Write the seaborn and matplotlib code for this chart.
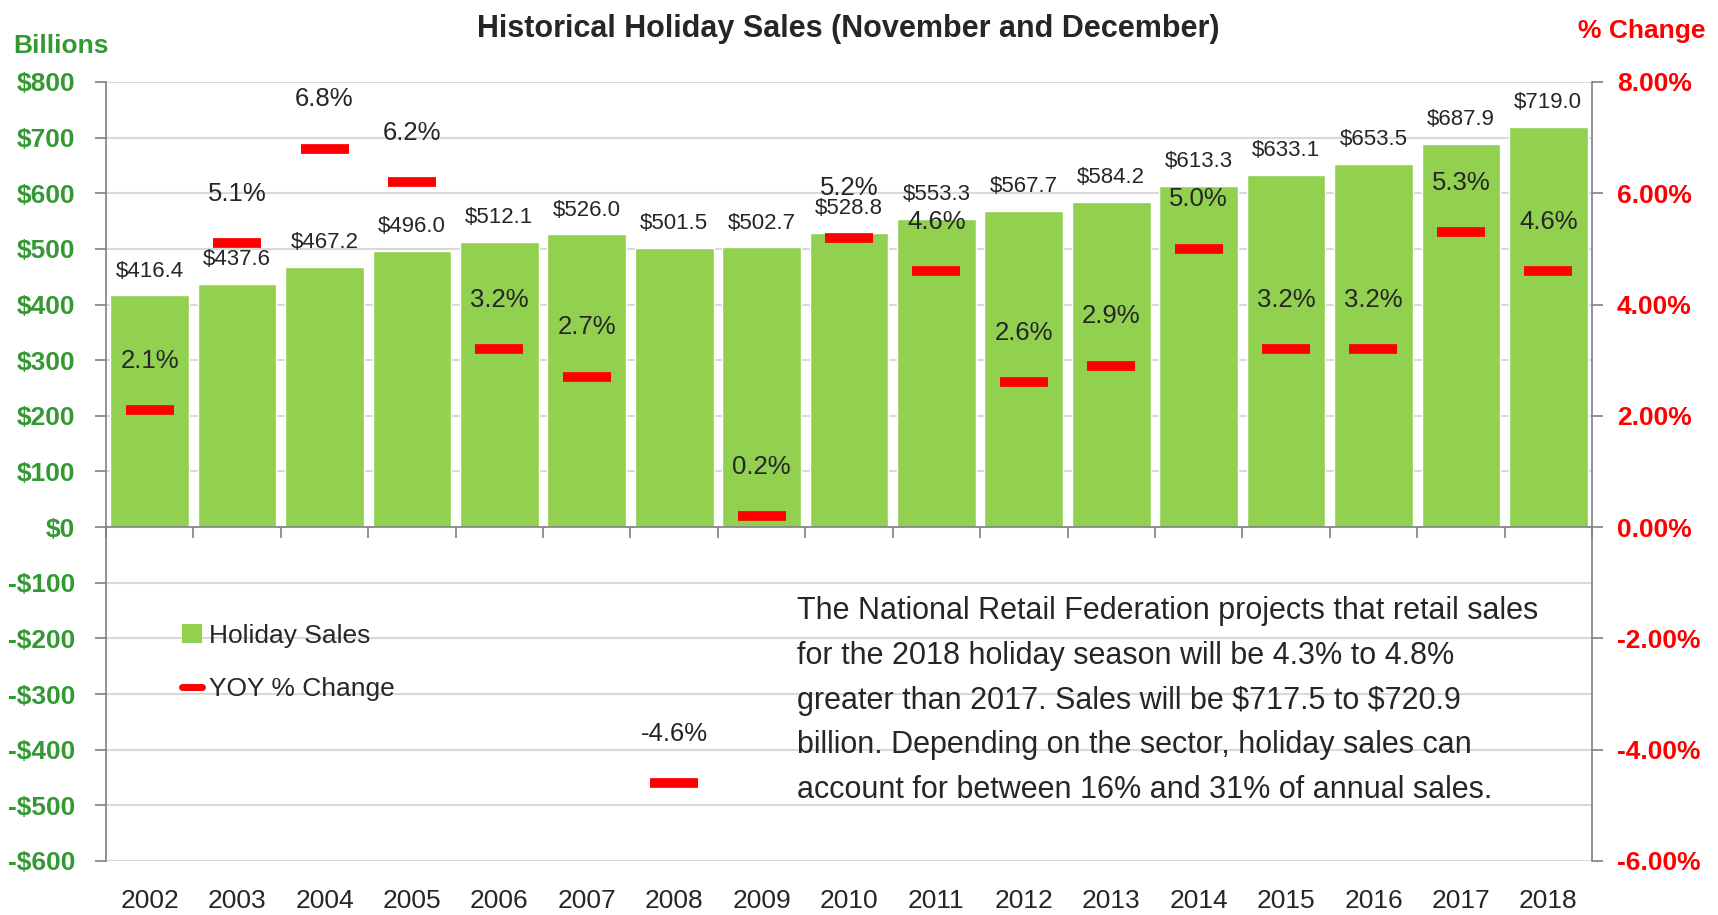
import matplotlib
matplotlib.use("Agg")
import matplotlib.pyplot as plt
import numpy as np
import pandas as pd
import seaborn as sns
from matplotlib.lines import Line2D
from matplotlib.patches import Patch
from matplotlib.ticker import FuncFormatter

years = ["2002", "2003", "2004", "2005", "2006", "2007", "2008", "2009", "2010",
         "2011", "2012", "2013", "2014", "2015", "2016", "2017", "2018"]
sales = [416.4, 437.6, 467.2, 496.0, 512.1, 526.0, 501.5, 502.7, 528.8,
         553.3, 567.7, 584.2, 613.3, 633.1, 653.5, 687.9, 719.0]
pct_change = [2.1, 5.1, 6.8, 6.2, 3.2, 2.7, -4.6, 0.2, 5.2,
              4.6, 2.6, 2.9, 5.0, 3.2, 3.2, 5.3, 4.6]
note = ("The National Retail Federation projects that retail sales\n"
        "for the 2018 holiday season will be 4.3% to 4.8%\n"
        "greater than 2017. Sales will be $717.5 to $720.9\n"
        "billion. Depending on the sector, holiday sales can\n"
        "account for between 16% and 31% of annual sales.")

GREEN = "#92D050"
LABEL_GREEN = "#339933"
RED = "#FF0000"

sns.set_style("white")
plt.rcParams["font.family"] = ["Liberation Sans", "DejaVu Sans"]
plt.rcParams["text.parse_math"] = False

df = pd.DataFrame({"year": years, "sales": sales, "pct": pct_change})

fig = plt.figure(figsize=(17.18, 9.15), dpi=100)
ax = fig.add_axes([106 / 1718, 1 - 861 / 915, 1486 / 1718, 779 / 915])

sns.barplot(data=df, x="year", y="sales", color=GREEN, width=0.9,
            saturation=1, ax=ax, zorder=2)
ax.set_xlim(-0.5, len(years) - 0.5)
ax.set_ylim(-600, 800)
ax.set_yticks(np.arange(-600, 801, 100))
ax.yaxis.set_major_formatter(FuncFormatter(lambda v, p: f"-${abs(v):.0f}" if v < 0 else f"${v:.0f}"))
ax.grid(axis="y", color="#d9d9d9", linewidth=1.5, zorder=0)
ax.set_axisbelow(True)
ax.set_xlabel("")
ax.set_ylabel("")
for s in ["top", "bottom", "right"]:
    ax.spines[s].set_visible(False)
ax.spines["left"].set_color("#808080")
ax.spines["left"].set_linewidth(1.2)
ax.tick_params(axis="y", length=8, width=1.2, color="#808080", labelsize=19,
               labelcolor=LABEL_GREEN, pad=14)
for t in ax.get_yticklabels():
    t.set_fontweight("bold")
ax.tick_params(axis="x", length=0, labelsize=19, pad=20)

# zero line with category tick marks
ax.axhline(0, color="#808080", linewidth=1.2, zorder=3)
sec = ax.secondary_xaxis(600 / 1400)
sec.set_xticks(np.arange(-0.5, len(years), 1.0))
sec.tick_params(axis="x", direction="out", length=8, width=1.2, color="#808080",
                labelbottom=False, labeltop=False, bottom=True, top=False)
sec.spines["bottom"].set_visible(False)
sec.spines["top"].set_visible(False)

for i, v in enumerate(sales):
    ax.annotate(f"${v:.1f}", (i, v), xytext=(0, 10), textcoords="offset points",
                ha="center", va="bottom", fontsize=16, zorder=5)

ax2 = ax.twinx()
ax2.set_ylim(-6, 8)
ax2.set_yticks(np.arange(-6, 8.01, 2))
ax2.yaxis.set_major_formatter(FuncFormatter(lambda v, p: f"{v:.2f}%"))
ax2.plot(range(len(years)), pct_change, linestyle="none", marker="_",
         markersize=34, markeredgewidth=7, color=RED, zorder=4)
for i, v in enumerate(pct_change):
    ax2.annotate(f"{v:.1f}%", (i, v), xytext=(0, 27), textcoords="offset points",
                 ha="center", va="bottom", fontsize=18.5, zorder=5)
for s in ["top", "bottom", "left"]:
    ax2.spines[s].set_visible(False)
ax2.spines["right"].set_color("#808080")
ax2.spines["right"].set_linewidth(1.2)
ax2.tick_params(axis="y", length=8, width=1.2, color="#808080", labelsize=19,
                labelcolor=RED, pad=10)
for t in ax2.get_yticklabels():
    t.set_fontweight("bold")
ax2.grid(False)

handles = [Patch(facecolor=GREEN, edgecolor="none", label="Holiday Sales"),
           Line2D([], [], color=RED, linewidth=5, label="YOY % Change")]
ax.legend(handles=handles, loc="upper left", bbox_to_anchor=(0.035, 0.335),
          frameon=False, fontsize=19, handlelength=0.75, handletextpad=0.3,
          labelspacing=1.1)

ax.text(0.465, 0.34, note, transform=ax.transAxes, ha="left", va="top",
        fontsize=22, linespacing=1.64, zorder=6)

fig.text(0.494, 0.968, "Historical Holiday Sales (November and December)",
         ha="center", va="center", fontsize=22, fontweight="bold")
fig.text(0.008, 0.95, "Billions", ha="left", va="center", fontsize=19,
         fontweight="bold", color=LABEL_GREEN)
fig.text(0.993, 0.966, "% Change", ha="right", va="center", fontsize=19,
         fontweight="bold", color=RED)

fig.savefig("out.png", dpi=100)
